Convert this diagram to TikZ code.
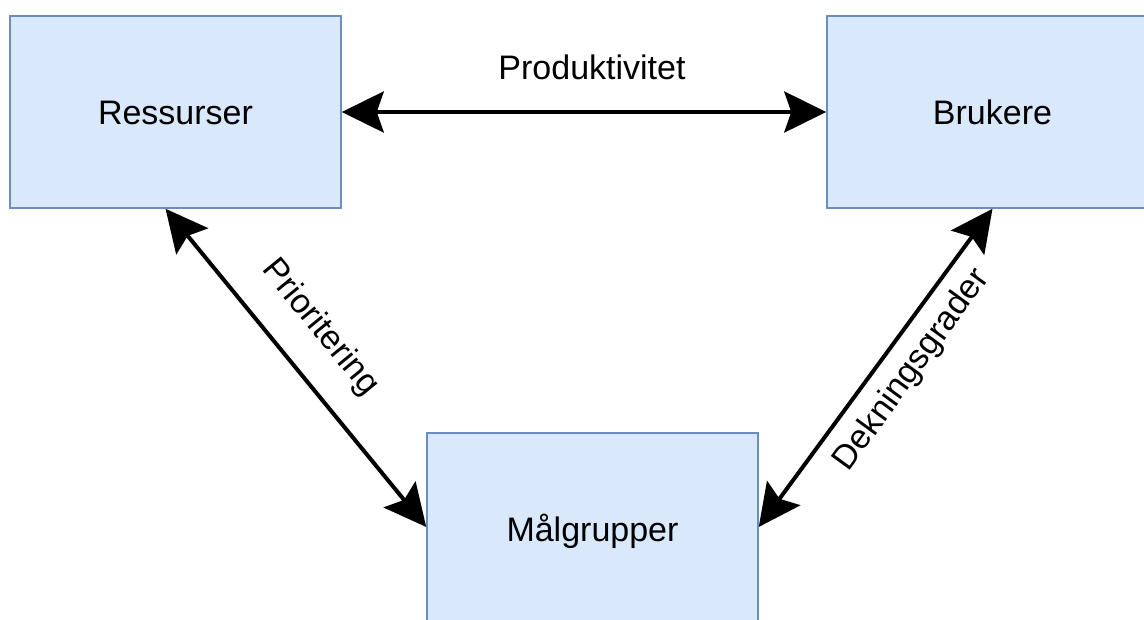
\documentclass[tikz,border=0pt]{standalone}
\usepackage{fontspec}
\setmainfont{Liberation Sans}
\usetikzlibrary{arrows.meta,calc}
\definecolor{boxfill}{HTML}{DAE8FC}
\definecolor{boxdraw}{HTML}{6C8EBF}
\begin{document}
\begin{tikzpicture}[x=1pt,y=-1pt,
  box/.style={draw=boxdraw, fill=boxfill, line width=1.5pt, minimum width=331pt,
    minimum height=192pt, inner sep=0pt, text height=24pt, text depth=0pt,
    font=\fontsize{34}{40}\selectfont},
  link/.style={line width=4pt,
    {Stealth[length=42pt,width=41pt,inset=7pt]}-{Stealth[length=42pt,width=41pt,inset=7pt]}},
  lbl/.style={font=\fontsize{34}{40}\selectfont, inner sep=0pt}]
\useasboundingbox (0,0) rectangle (1144,619);
\clip (0,0) rectangle (1144,619);
\node[box] (ress) at (175.5,112) {Ressurser};
\node[box] (bruk) at (992.5,112) {Brukere};
\node[box, minimum height=193pt] (malg) at (592.5,529.5) {Målgrupper};
\coordinate (rs) at ($(ress.south west)!0.47!(ress.south east)$);
\coordinate (ml) at ($(malg.north west)!0.487!(malg.south west)$);
\coordinate (mr) at ($(malg.north east)!0.487!(malg.south east)$);
\draw[link] (ress.east) -- (bruk.west);
\draw[link] (rs) -- (ml);
\draw[link] (bruk.south) -- (mr);
\node[lbl, anchor=base] (prod) at (592,79) {Produktivitet};
\node[lbl, rotate=-50.7] (prio) at (320,328) {Prioritering};
\node[lbl, rotate=53.9] (dekn) at (912,370) {Dekningsgrader};
\end{tikzpicture}
\end{document}
